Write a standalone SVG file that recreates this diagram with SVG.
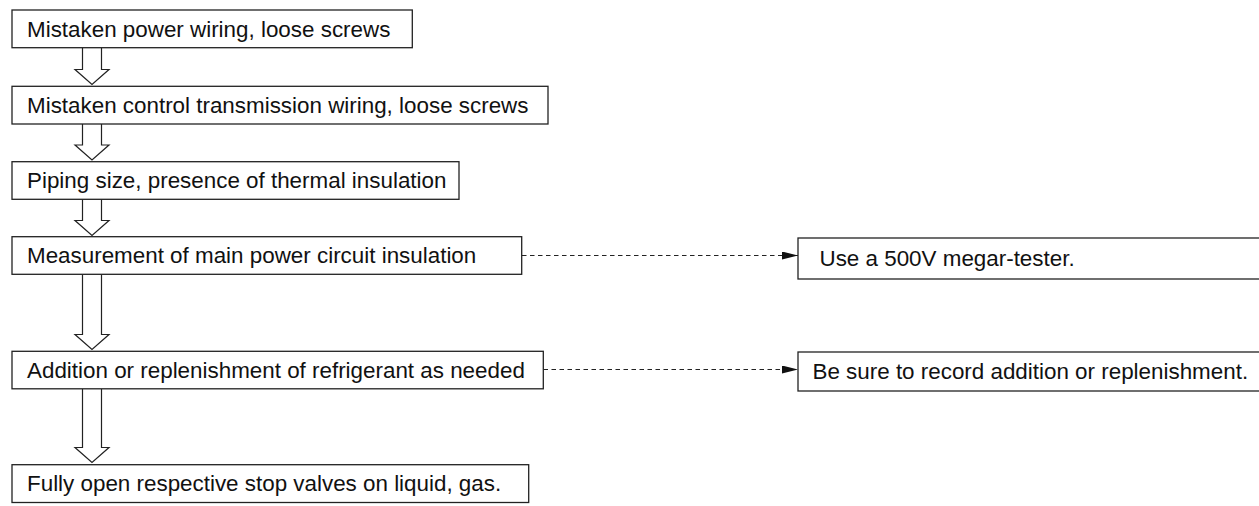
<svg xmlns="http://www.w3.org/2000/svg" width="1259" height="506" viewBox="0 0 1259 506">
<defs>
<style>
.box{fill:#fff;stroke:#222;stroke-width:1.3}
.t{font-family:"Liberation Sans",Arial,sans-serif;font-size:22.4px;fill:#111}
.big{fill:#fff;stroke:#222;stroke-width:1.2}
.dash{fill:none;stroke:#222;stroke-width:1.2;stroke-dasharray:4.5,3.5}
</style>
<marker id="ah" markerWidth="16" markerHeight="8" refX="16" refY="4" orient="auto" markerUnits="userSpaceOnUse">
<path d="M0,0 L16,4 L0,8 Z" fill="#111"/>
</marker>
</defs>
<rect width="1259" height="506" fill="#fff"/>
<g id="connectors">
<path class="big" d="M82.5,48 V69.5 H75 L92,84.5 L109,69.5 H101.5 V48"/>
<path class="big" d="M82.5,124 V145 H75 L92,160 L109,145 H101.5 V124"/>
<path class="big" d="M82.5,199.5 V220.5 H75 L92,235.5 L109,220.5 H101.5 V199.5"/>
<path class="big" d="M82.5,274.5 V334.5 H75 L92,349.5 L109,334.5 H101.5 V274.5"/>
<path class="big" d="M82.5,389 V447.5 H75 L92,462.5 L109,447.5 H101.5 V389"/>
<line class="dash" x1="522" y1="255.5" x2="798" y2="255.5" marker-end="url(#ah)"/>
<line class="dash" x1="543.5" y1="369.5" x2="798" y2="369.5" marker-end="url(#ah)"/>
</g>
<g id="n1"><rect class="box" x="12" y="10" width="400.3" height="37.7"/><text class="t" x="27" y="36.7">Mistaken power wiring, loose screws</text></g>
<g id="n2"><rect class="box" x="12" y="86.3" width="536" height="37.7"/><text class="t" x="27" y="113">Mistaken control transmission wiring, loose screws</text></g>
<g id="n3"><rect class="box" x="12" y="161.7" width="447" height="37.6"/><text class="t" x="27" y="188.3">Piping size, presence of thermal insulation</text></g>
<g id="n4"><rect class="box" x="12" y="236.7" width="509.7" height="37.6"/><text class="t" x="27" y="263.3">Measurement of main power circuit insulation</text></g>
<g id="n5"><rect class="box" x="12" y="351.3" width="531.3" height="37.5"/><text class="t" x="27" y="378">Addition or replenishment of refrigerant as needed</text></g>
<g id="n6"><rect class="box" x="12" y="464.7" width="516.7" height="37.8"/><text class="t" x="27" y="491.4">Fully open respective stop valves on liquid, gas.</text></g>
<g id="r1"><rect class="box" x="798" y="238" width="470" height="41"/><text class="t" x="819.5" y="266">Use a 500V megar-tester.</text></g>
<g id="r2"><rect class="box" x="798" y="352" width="470" height="39"/><text class="t" x="812.5" y="379">Be sure to record addition or replenishment.</text></g>
</svg>
